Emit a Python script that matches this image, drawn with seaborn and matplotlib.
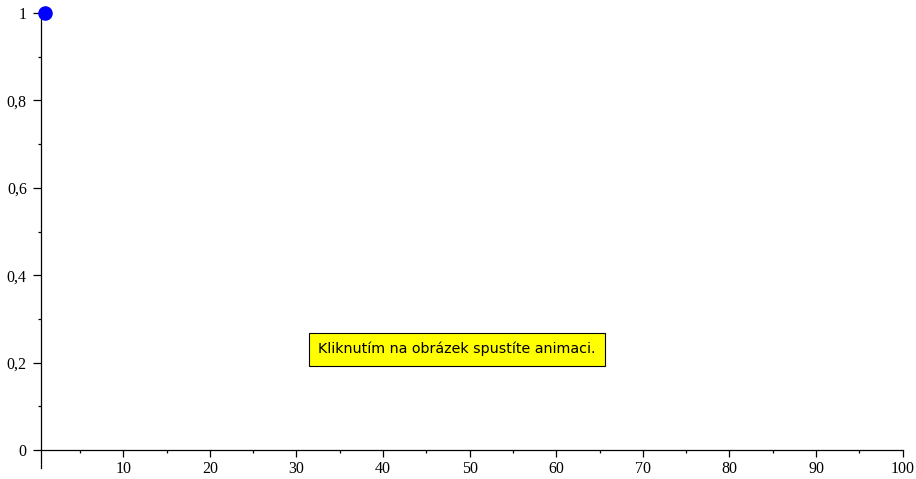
import matplotlib
matplotlib.use('Agg')
import matplotlib.pyplot as plt
import seaborn as sns
from matplotlib.ticker import FuncFormatter, MultipleLocator

sns.set_style('white')

# Data: single animation frame point
x_vals = [1]
y_vals = [1]
x_ticks = [10, 20, 30, 40, 50, 60, 70, 80, 90, 100]
y_ticks = [0, 0.2, 0.4, 0.6, 0.8, 1]
note = 'Kliknutím na obrázek spustíte animaci.'

fig = plt.figure(figsize=(9.16, 4.79), dpi=100)
ax = fig.add_axes([0.0444, 0.024, 0.9411, 0.9489])

sns.scatterplot(x=x_vals, y=y_vals, ax=ax, color='#0000ff', s=110,
                edgecolor='#0000ff', linewidth=0, clip_on=False, zorder=5)

ax.set_xlim(0.47, 100)
ax.set_ylim(-0.04, 1)

ax.spines['top'].set_visible(False)
ax.spines['right'].set_visible(False)
ax.spines['bottom'].set_position(('data', 0))
for s in ('left', 'bottom'):
    ax.spines[s].set_color('black')
    ax.spines[s].set_linewidth(0.9)

ax.set_xticks(x_ticks)
ax.set_yticks(y_ticks)
ax.xaxis.set_minor_locator(MultipleLocator(5))
ax.yaxis.set_minor_locator(MultipleLocator(0.1))

fmt = FuncFormatter(lambda v, p: f'{v:g}'.replace('.', ','))
ax.xaxis.set_major_formatter(fmt)
ax.yaxis.set_major_formatter(fmt)

ax.tick_params(axis='both', which='major', direction='out', length=5.5,
               width=0.9, color='black', labelcolor='black', labelsize=11.5)
ax.tick_params(axis='both', which='minor', direction='out', length=2.5,
               width=0.9, color='black')
ax.tick_params(axis='x', which='major', length=5, pad=3)
ax.tick_params(axis='y', which='major', pad=4.5)
ax.tick_params(axis='x', which='both', bottom=True)
ax.tick_params(axis='y', which='both', left=True)
for lab in ax.get_xticklabels() + ax.get_yticklabels():
    lab.set_family('Liberation Serif')

ax.text(48.5, 0.231, note, ha='center', va='center', fontsize=10.3,
        family='DejaVu Sans', color='black',
        bbox=dict(boxstyle='square,pad=0.65', facecolor='#ffff00',
                  edgecolor='black', linewidth=0.8))

ax.set_xlabel('')
ax.set_ylabel('')
ax.grid(False)

fig.savefig('out.png', dpi=100)
